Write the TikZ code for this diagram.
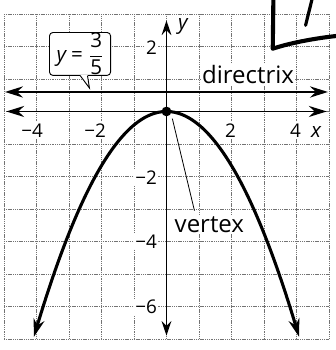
\documentclass[tikz,border=0pt]{standalone}
\usepackage{fontspec}
\setmainfont{Open Sans}
\usetikzlibrary{arrows.meta,calc}
\begin{document}
\begin{tikzpicture}[
  gridline/.style={draw=black!55, line width=0.6pt, dash pattern=on 1pt off 0.6pt},
  bigtip/.tip={Stealth[length=5.5mm,width=3.4mm,inset=1.8mm]},
  smalltip/.tip={Stealth[length=4.5mm,width=3mm,inset=1.5mm]},
  axisline/.style={line width=1.5pt, line join=miter},
  dirline/.style={line width=2.5pt},
  curveline/.style={line width=2.7pt},
  numlabel/.style={font=\fontsize{16.5}{18}\selectfont, fill=white, inner sep=1pt},
  wordlabel/.style={font=\fontsize{21}{24}\selectfont, fill=white, inner sep=1pt},
  varlabel/.style={font=\fontsize{18}{20}\selectfont\itshape, inner sep=1pt},
  callout/.style={draw, line width=0.8pt, rounded corners=3pt, fill=white, minimum width=1.88cm, minimum height=1.32cm, inner sep=0pt, font=\fontsize{18}{20}\selectfont},
  pen/.style={line cap=round, line join=round}
]
\useasboundingbox (-5.123,-7.34) rectangle (5.215,3.43);
% grid
\draw[gridline] (-5,-7) grid (5,3);
% axes
\coordinate (xa) at (-4.93,0);
\coordinate (xb) at (4.93,0);
\coordinate (ya) at (0,-6.9);
\coordinate (yb) at (0,2.8);
\draw[axisline, bigtip-bigtip] (xa) -- (xb);
\draw[axisline, smalltip-smalltip] (ya) -- (yb);
% directrix
\coordinate (da) at (-4.97,0.6);
\coordinate (db) at (4.97,0.6);
\draw[dirline, bigtip-bigtip] (da) -- (db);
% parabola
\draw[curveline, bigtip-bigtip] plot[domain=-4.08:4.08, samples=80, smooth] (\x, {-5/12*\x*\x});
% vertex dot
\fill (0,0) circle (0.15);
\coordinate (vdot) at (0.18,-0.22);
\coordinate (vend) at (0.86,-3.05);
% axis labels
\node[numlabel] (xm4) at (-3.97,-0.58) {\llap{−}4};
\node[numlabel] (xm2) at (-2.03,-0.58) {\llap{−}2};
\node[numlabel] (xp2) at (1.97,-0.58) {2};
\node[numlabel] (xp4) at (3.97,-0.58) {4};
\node[numlabel, anchor=east] (yp2) at (-0.25,1.97) {2};
\node[numlabel, anchor=east] (ym2) at (-0.25,-2.04) {−2};
\node[numlabel, anchor=east] (ym4) at (-0.25,-4.0) {−4};
\node[numlabel, anchor=east] (ym6) at (-0.25,-6.02) {−6};
\node[varlabel] (xlab) at (4.6,-0.62) {x};
\node[varlabel] (ylab) at (0.5,2.6) {y};
% words
\node[wordlabel, anchor=base] (dirlab) at (2.51,0.86) {directrix};
\node[wordlabel, anchor=base] (vertlab) at (1.32,-3.72) {vertex};
\draw[line width=0.7pt] (vdot) -- (vend);
% callout
\node[callout] (eq) at (-2.66,1.77) {\itshape y\upshape\hspace{0.25em}=\hspace{0.3em}\(\displaystyle\frac{\mbox{3}}{\mbox{5}}\)};
\coordinate (tip) at (-2.37,0.72);
\fill[white] ([xshift=0.01cm,yshift=0.6pt]eq.south) -- (tip) -- ([xshift=0.23cm,yshift=0.6pt]eq.south) -- cycle;
\draw[line width=0.8pt, line join=miter] ([xshift=0.01cm]eq.south) -- (tip) -- ([xshift=0.23cm]eq.south);
% pen marks
\draw[pen, line width=3.6pt] (3.29,3.5) -- (3.27,1.93) .. controls (3.7,2.08) and (4.5,2.25) .. (5.3,2.33);
\draw[pen, line width=2.8pt] (4.49,3.5) -- (4.28,2.65);
\end{tikzpicture}
\end{document}
